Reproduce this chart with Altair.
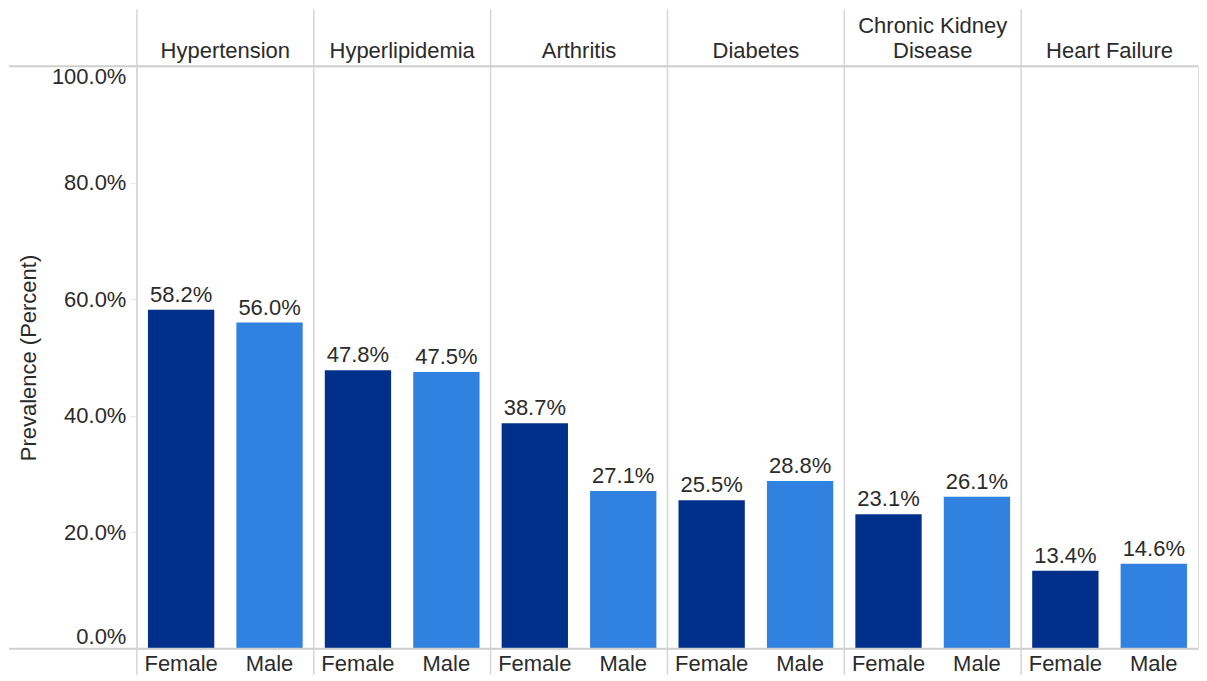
import altair as alt
import pandas as pd

# ---- data ----
conditions = ["Hypertension", "Hyperlipidemia", "Arthritis", "Diabetes",
              "Chronic Kidney Disease", "Heart Failure"]
headers = ["Hypertension", "Hyperlipidemia", "Arthritis", "Diabetes",
           "Chronic Kidney\nDisease", "Heart Failure"]
genders = ["Female", "Male"]
female_pct = [58.2, 47.8, 38.7, 25.5, 23.1, 13.4]
male_pct = [56.0, 47.5, 27.1, 28.8, 26.1, 14.6]
y_ticks = [0.0, 0.2, 0.4, 0.6, 0.8, 1.0]

# ---- layout constants ----
W, H = 1062, 583
TOP = 59
LEFT = 128
STEP = W / (len(conditions) * 2)
HALF_PAD = STEP * 0.125
FONT = "Liberation Sans"
TXT = "#2b2b2b"
FS = 22

rows = []
for c, f, m in zip(conditions, female_pct, male_pct):
    rows.append({"key": f"{c}|Female", "gender": "Female", "pct": f})
    rows.append({"key": f"{c}|Male", "gender": "Male", "pct": m})
df = pd.DataFrame(rows)
df["frac"] = df["pct"] / 100.0
keys = list(df["key"])

line1, line2 = [], []
for h in headers:
    parts = h.split("\n")
    line2.append(parts[-1])
    line1.append(" ".join(parts[:-1]))
cond_df = pd.DataFrame({"key": [f"{c}|Female" for c in conditions],
                        "line1": line1, "line2": line2})
edge_df = pd.DataFrame({"edge": [0.0, 1.0]})

xscale = alt.Scale(domain=keys, paddingInner=0.25, paddingOuter=0.125)
yscale = alt.Scale(domain=[0, 1], nice=False)

x_axis = alt.Axis(title=None, labelExpr="split(datum.label, '|')[1]", labelAngle=0,
                  bandPosition=0.5, labelAlign="center", labelBaseline="top",
                  ticks=False, domain=False, grid=False, labelFontSize=FS,
                  labelColor=TXT, labelFont=FONT, labelPadding=5)
y_axis = alt.Axis(title="Prevalence (Percent)", values=y_ticks, format=".1%",
                  grid=False, domain=False, ticks=True, tickColor="#e6e6e6", tickSize=7,
                  labelFontSize=FS, labelColor=TXT, labelFont=FONT, labelPadding=4,
                  labelFlush=True, titleFontSize=FS, titleFont=FONT,
                  titleFontWeight="normal", titleColor=TXT, titleX=-108, titleY=H / 2,
                  titleAngle=270, titleAlign="center", titleBaseline="middle")

base = alt.Chart(df)

bars = base.mark_bar().encode(
    x=alt.X("key:N", scale=xscale, axis=x_axis),
    y=alt.Y("frac:Q", scale=yscale, axis=y_axis),
    color=alt.Color("gender:N", scale=alt.Scale(domain=genders, range=["#00308A", "#3181E1"]),
                    legend=None),
)

labels = base.mark_text(baseline="alphabetic", dy=-8, fontSize=FS, font=FONT, color=TXT).encode(
    x=alt.X("key:N", scale=xscale, axis=x_axis),
    y=alt.Y("frac:Q", scale=yscale, axis=y_axis),
    text=alt.Text("frac:Q", format=".1%"),
)

dividers = alt.Chart(cond_df).mark_rule(color="#d6d6d6", strokeWidth=1.5, xOffset=-HALF_PAD).encode(
    x=alt.X("key:N", scale=xscale, bandPosition=0, axis=x_axis),
    y=alt.value(-TOP + 2),
    y2=alt.value(H + 26),
)

head2 = alt.Chart(cond_df).mark_text(baseline="alphabetic", align="center", fontSize=FS,
                                     font=FONT, color=TXT, xOffset=HALF_PAD).encode(
    x=alt.X("key:N", scale=xscale, bandPosition=1, axis=x_axis),
    y=alt.value(-8),
    text="line2:N",
)
head1 = alt.Chart(cond_df).mark_text(baseline="alphabetic", align="center", fontSize=FS,
                                     font=FONT, color=TXT, xOffset=HALF_PAD).encode(
    x=alt.X("key:N", scale=xscale, bandPosition=1, axis=x_axis),
    y=alt.value(-33),
    text="line1:N",
)

edges = alt.Chart(edge_df).mark_rule(color="#cfcfcf", strokeWidth=2).encode(
    y=alt.Y("edge:Q", scale=yscale, axis=y_axis),
    x=alt.value(-LEFT),
    x2=alt.value(W),
)

chart = alt.layer(bars, dividers, edges, labels, head1, head2).properties(
    width=W, height=H, padding=0
).configure_view(stroke=None).configure(font=FONT)

chart.save("out.html", embed_options={"renderer": "svg", "actions": False})
